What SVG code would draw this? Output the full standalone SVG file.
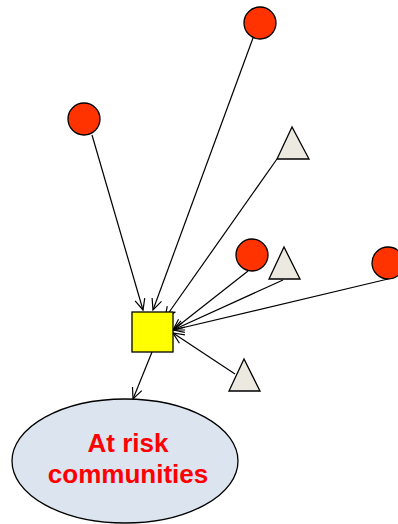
<svg xmlns="http://www.w3.org/2000/svg" width="398" height="524" viewBox="0 0 398 524">
<style>
.c{fill:#FF3300;stroke:#000;stroke-width:1.3}
.t{fill:#ECEAE0;stroke:#000;stroke-width:1.3}
.e{stroke:#000;stroke-width:1.2;fill:none;marker-end:url(#a)}
.lbl{font-family:"Liberation Sans",Arial,sans-serif;font-weight:bold;font-size:26px;fill:#FF0000;text-anchor:middle}
</style>
<defs>
<marker id="a" markerUnits="userSpaceOnUse" markerWidth="14" markerHeight="12" refX="11" refY="5" orient="auto" overflow="visible">
<path d="M0,0 L11,5 L0,10" fill="none" stroke="#000" stroke-width="1.2"/>
</marker>
</defs>
<rect width="398" height="524" fill="#fff"/>
<g id="connectors">
<line class="e" x1="92" y1="135" x2="143" y2="310"/>
<line class="e" x1="253" y1="38" x2="153" y2="310"/>
<line class="e" x1="277" y1="159" x2="165" y2="318"/>
<line class="e" x1="248" y1="271" x2="173" y2="330"/>
<line class="e" x1="283" y1="280" x2="173" y2="330"/>
<line class="e" x1="388" y1="279" x2="173" y2="330"/>
<line class="e" x1="235" y1="374" x2="173" y2="333"/>
<line class="e" x1="152" y1="352" x2="133" y2="399"/>
</g>
<g id="circle1"><circle class="c" cx="260" cy="23" r="16"/></g>
<g id="circle2"><circle class="c" cx="84" cy="119" r="16"/></g>
<g id="circle3"><circle class="c" cx="252" cy="255" r="16"/></g>
<g id="circle4"><circle class="c" cx="388" cy="263" r="16"/></g>
<g id="triangle1"><polygon class="t" points="292,127 277,159 309,159"/></g>
<g id="triangle2"><polygon class="t" points="284,247 269,279 300,279"/></g>
<g id="triangle3"><polygon class="t" points="244,359 229,391 260,391"/></g>
<g id="square"><rect x="132" y="312" width="41" height="40" fill="#FFFF00" stroke="#000" stroke-width="1.3"/></g>
<g id="communities">
<ellipse cx="125" cy="461" rx="113" ry="62" fill="#DCE4F0" stroke="#000" stroke-width="1.3"/>
<text class="lbl" x="128" y="452">At risk</text>
<text class="lbl" x="128" y="483">communities</text>
</g>
</svg>
